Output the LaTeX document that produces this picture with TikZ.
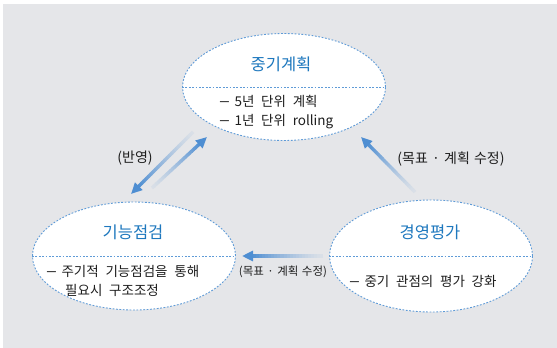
\documentclass[tikz,border=0pt]{standalone}
\usepackage{fontspec}
\setmainfont{Noto Sans CJK KR}
\usetikzlibrary{shapes.geometric,arrows.meta,calc}
\definecolor{bggray}{RGB}{229,230,233}
\definecolor{titleblue}{RGB}{30,120,190}
\definecolor{arrowblue}{RGB}{78,142,210}
\definecolor{edgeblue}{RGB}{95,155,215}
\definecolor{txt}{RGB}{30,30,30}
\newcommand{\bodyfnt}{\fontsize{13.5}{20}\selectfont\spaceskip=0.5em\relax}
\newcommand{\labfnt}{\fontsize{14}{16}\selectfont\spaceskip=0.3em\relax}
\newcommand{\smlabfnt}{\fontsize{11.5}{13}\selectfont\spaceskip=0.3em\relax}
\newcommand{\bdash}{\scalebox{1.5}[1.15]{–}\hspace{4.5pt}}
\tikzset{
  bubble/.style={ellipse, draw=edgeblue, line width=0.9pt, dash pattern=on 1.8pt off 1.6pt, fill=white, inner sep=0pt},
  divider/.style={draw=edgeblue, line width=0.9pt, dash pattern=on 1.8pt off 1.6pt},
  title/.style={font=\fontsize{16.5}{19}\selectfont, text=titleblue, inner sep=0pt},
  body/.style={font=\bodyfnt, text=txt, inner sep=0pt, anchor=west, align=left},
  lab/.style={font=\labfnt, text=txt, inner sep=0pt},
}
\newcommand{\gradarrow}[2]{%
  \foreach \k in {0,...,23}{%
    \pgfmathsetmacro{\ta}{\k/24*0.9}%
    \pgfmathsetmacro{\tb}{(\k+1)/24*0.9+0.004}%
    \pgfmathsetmacro{\pc}{8+92*(\k/23)^1.3}%
    \draw[line width=3.4pt, draw=arrowblue!\pc!bggray] ($(#1)!\ta!(#2)$) -- ($(#1)!\tb!(#2)$);
  }%
  \draw[line width=3.4pt, draw=arrowblue, -{Triangle[length=11pt,width=10pt]}] ($(#1)!0.88!(#2)$) -- (#2);
}
\begin{document}
\begin{tikzpicture}[x=1pt,y=-1pt]
\useasboundingbox (0,0) rectangle (557,348);
\fill[bggray] (3,4) rectangle (557,348);

% arrows (coordinates)
\coordinate (s1) at (193,132); \coordinate (e1) at (131,194);
\coordinate (s2) at (152,188); \coordinate (e2) at (207,137);
\coordinate (s3) at (415,192); \coordinate (e3) at (361,137);
\coordinate (s4) at (323,256); \coordinate (e4) at (242,256);

% ellipses
\node[bubble, minimum width=203pt, minimum height=107pt] (top) at (284,87) {};
\node[bubble, minimum width=203pt, minimum height=108pt] (left) at (134,256) {};
\node[bubble, minimum width=203pt, minimum height=112pt] (right) at (431,256) {};

\draw[divider] (top.west) -- (top.east);
\draw[divider] (left.west) -- (left.east);
\draw[divider] (right.west) -- (right.east);

\gradarrow{s1}{e1}
\gradarrow{s2}{e2}
\gradarrow{s3}{e3}
\gradarrow{s4}{e4}

% titles
\node[title] (t1) at (281,64) {중기계획};
\node[title] (t2) at (133,232) {기능점검};
\node[title] (t3) at (430,232) {경영평가};

% bodies
\node[body] (b1a) at (219,101) {\bdash 5년 단위 계획};
\node[body] (b1b) at (219,122) {\bdash 1년 단위 rolling};
\node[body] (b2a) at (46,271) {\bdash 주기적 기능점검을 통해};
\node[body] (b2b) at (65,290) {필요시 구조조정};
\node[body] (b3a) at (349,281) {\bdash 중기 관점의 평가 강화};

% labels
\node[lab] (l1) at (135,158) {(반영)};
\node[lab] (l2) at (451,159) {(목표 · 계획 수정)};
\node[lab, font=\smlabfnt] (l3) at (283,272) {(목표 · 계획 수정)};
\end{tikzpicture}
\end{document}
